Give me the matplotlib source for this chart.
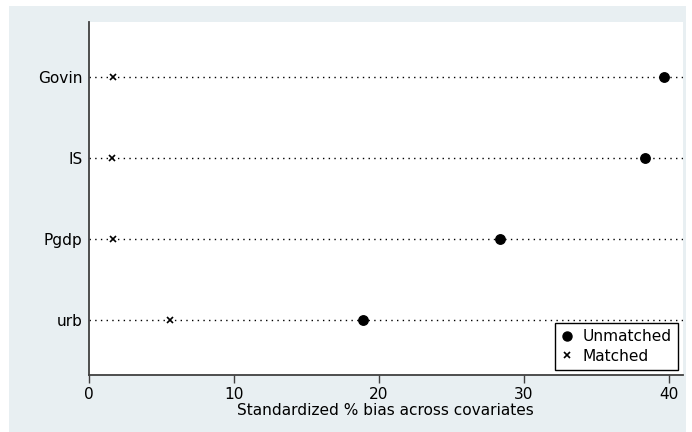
import matplotlib
matplotlib.use("Agg")
import matplotlib.pyplot as plt
from matplotlib.patches import Rectangle
from matplotlib.lines import Line2D

plt.rcParams['font.family'] = ['DejaVu Sans']

covariates = ["Govin", "IS", "Pgdp", "urb"]
unmatched = [39.7, 38.4, 28.4, 18.9]
matched = [1.7, 1.6, 1.7, 5.6]
xticks = [0, 10, 20, 30, 40]

W, H = 692, 432
FS = 11.1
fig = plt.figure(figsize=(W / 100, H / 100), dpi=100)
fig.patch.set_facecolor("white")
fig.add_artist(Rectangle((9 / W, 0), 677 / W, 426 / H, transform=fig.transFigure,
                         facecolor="#e8eff2", edgecolor="none", zorder=0))

ax = fig.add_axes([88.7 / W, (H - 375.3) / H, (683 - 88.7) / W, (375.3 - 22) / H])
ax.set_facecolor("white")

ypos = list(range(len(covariates), 0, -1))
xmax = 41
ax.hlines(ypos, 0, xmax, colors="black", linewidth=1.0, linestyles=(0, (1, 3.1)), zorder=1)
ax.plot(unmatched, ypos, linestyle="none", marker="o", markersize=6.8, color="black", zorder=3)
ax.plot(matched, ypos, linestyle="none", marker="x", markersize=4.5, markeredgewidth=1.2,
        color="black", zorder=3)

ax.set_xlim(0, xmax)
ax.set_ylim(0.32, len(covariates) + 0.68)
ax.set_yticks(ypos)
ax.set_yticklabels(covariates, fontsize=FS)
ax.tick_params(axis="y", length=0, pad=4.5)
ax.set_xticks(xticks)
ax.set_xticklabels([str(t) for t in xticks], fontsize=FS)
ax.tick_params(axis="x", length=6, width=1, color="#404040", pad=2.5)
for s in ["top", "right"]:
    ax.spines[s].set_visible(False)
for s in ["left", "bottom"]:
    ax.spines[s].set_color("#404040")
    ax.spines[s].set_linewidth(1.3)
ax.set_xlabel("Standardized % bias across covariates", fontsize=FS, labelpad=0.5)

handles = [Line2D([], [], linestyle="none", marker="o", markersize=6.5, color="black"),
           Line2D([], [], linestyle="none", marker="x", markersize=4.5, markeredgewidth=1.2, color="black")]
leg = ax.legend(handles, ["Unmatched", "Matched"], loc="lower right",
                bbox_to_anchor=(0.9916, 0.015), borderaxespad=0, fontsize=FS,
                fancybox=False, framealpha=1, edgecolor="black", handlelength=0.7,
                handletextpad=0.7, borderpad=0.4, labelspacing=0.3)
leg.get_frame().set_linewidth(1.0)

fig.savefig("out.png", dpi=100)
